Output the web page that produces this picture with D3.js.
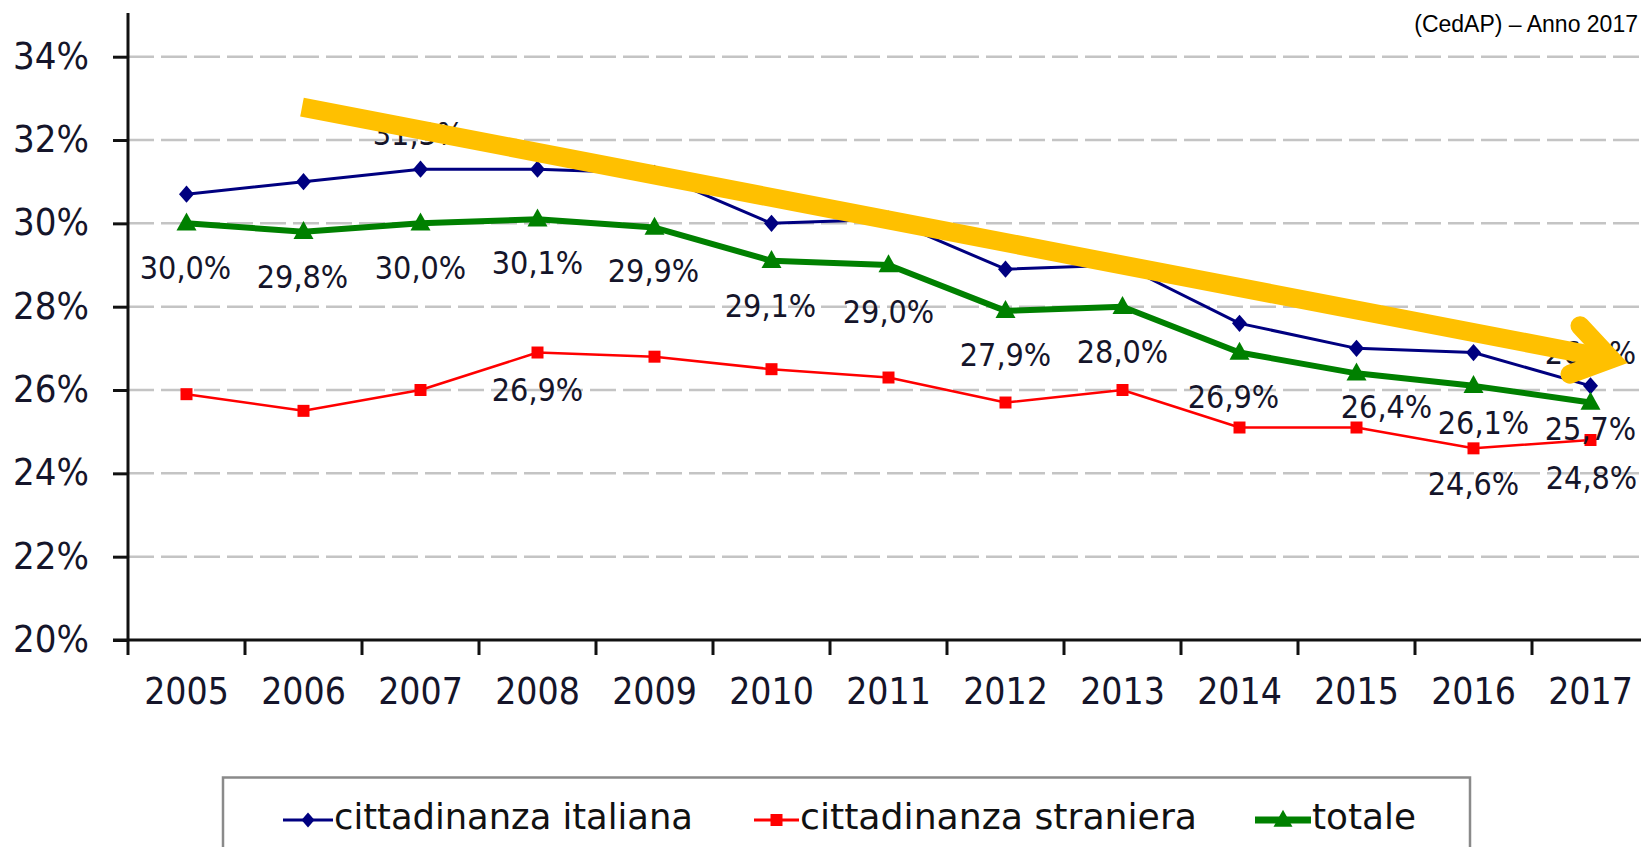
<!DOCTYPE html>
<html>
<head>
<meta charset="utf-8">
<script src="https://cdn.jsdelivr.net/npm/d3@7"></script>
<style>
  body { margin: 0; background: #fff; }
  #canvas { width: 1641px; height: 847px; overflow: hidden; }
</style>
</head>
<body>
<div id="canvas"></div>
<script>
var years = ["2005","2006","2007","2008","2009","2010","2011","2012","2013","2014","2015","2016","2017"];
var italiana  = [30.7, 31.0, 31.3, 31.3, 31.2, 30.0, 30.1, 28.9, 29.0, 27.6, 27.0, 26.9, 26.1];
var straniera = [25.9, 25.5, 26.0, 26.9, 26.8, 26.5, 26.3, 25.7, 26.0, 25.1, 25.1, 24.6, 24.8];
var totale    = [30.0, 29.8, 30.0, 30.1, 29.9, 29.1, 29.0, 27.9, 28.0, 26.9, 26.4, 26.1, 25.7];
var yTicks = [20, 22, 24, 26, 28, 30, 32, 34];
var seriesNames = ["cittadinanza italiana", "cittadinanza straniera", "totale"];

// which points carry a value label (index into years)
var italianaLabels = [2, 12];
var stranieraLabels = [3, 11, 12];

// label nudges, pixels from the point (centre of text)
var totaleDx = [-1, -1, 0, 0, -1, -1, 0, 0, 0, -6, 30, 10, 0];
var totaleDy = [44, 45, 44, 43, 43, 45, 46, 44, 45, 44, 33, 37, 26];
var italianaDx = [-2, 0];
var italianaDy = [-36, -33];
var stranieraDx = [0, 0, 1];
var stranieraDy = [37, 35, 37];

var canvas, width, height, x, y, xi;

function fmt(v){
  return v.toFixed(1).replace(".", ",") + "%";
}

var diamond = {
  draw: function(ctx, size){
    var w = size, h = size * 1.15;
    ctx.moveTo(0, -h/2); ctx.lineTo(w/2, 0); ctx.lineTo(0, h/2); ctx.lineTo(-w/2, 0); ctx.closePath();
  }
};
var square = {
  draw: function(ctx, size){
    ctx.rect(-size/2, -size/2, size, size);
  }
};
var triangle = {
  draw: function(ctx, size){
    var h = size * 0.9;
    ctx.moveTo(0, -h*0.6); ctx.lineTo(size/2, h*0.4); ctx.lineTo(-size/2, h*0.4); ctx.closePath();
  }
};

function drawSeries(values, color, lw, shape, msize){
  var line = d3.line()
    .x(function(d, i){ return x(years[i]) + x.bandwidth()/2; })
    .y(function(d){ return y(d); });
  canvas.append("path")
    .attr("d", line(values))
    .attr("fill", "none")
    .attr("stroke", color)
    .attr("stroke-width", lw)
    .attr("stroke-linejoin", "round");
  canvas.selectAll(null)
    .data(values)
    .enter().append("path")
    .attr("d", d3.symbol().type(shape).size(msize))
    .attr("transform", function(d, i){ return "translate(" + (x(years[i]) + x.bandwidth()/2) + "," + y(d) + ")"; })
    .attr("fill", color);
}

function drawLabels(values, idx, dx, dy){
  canvas.selectAll(null)
    .data(idx)
    .enter().append("text")
    .attr("x", function(d, k){ return x(years[d]) + x.bandwidth()/2 + dx[k]; })
    .attr("y", function(d, k){ return y(values[d]) + dy[k] + 11.5; })
    .attr("text-anchor", "middle")
    .attr("font-family", "'DejaVu Sans Condensed', 'DejaVu Sans', sans-serif")
    .attr("font-size", "32px")
    .attr("fill", "#15152a")
    .text(function(d){ return fmt(values[d]); });
}

function drawLegend(){
  var g = canvas.append("g");
  g.append("rect")
    .attr("x", 223).attr("y", 777.5)
    .attr("width", 1247).attr("height", 120)
    .attr("fill", "#fff")
    .attr("stroke", "#8a8a8a")
    .attr("stroke-width", 2.5);

  var items = [
    {x0: 283, x1: 333, tw: 359, color: "#000080", lw: 3, shape: diamond, ms: 13},
    {x0: 754, x1: 799, tw: 397, color: "#ff0000", lw: 3, shape: square, ms: 12},
    {x0: 1255, x1: 1311, tw: 104, color: "#008000", lw: 7, shape: triangle, ms: 19}
  ];
  items.forEach(function(it, i){
    g.append("line")
      .attr("x1", it.x0).attr("x2", it.x1)
      .attr("y1", 820).attr("y2", 820)
      .attr("stroke", it.color).attr("stroke-width", it.lw);
    g.append("path")
      .attr("d", d3.symbol().type(it.shape).size(it.ms))
      .attr("transform", "translate(" + ((it.x0 + it.x1)/2) + ",820)")
      .attr("fill", it.color);
    g.append("text")
      .attr("x", it.x1 + 1).attr("y", 829)
      .attr("font-family", "'DejaVu Sans Condensed', 'DejaVu Sans', sans-serif")
      .attr("font-size", "35px")
      .attr("fill", "#111")
      .attr("textLength", it.tw)
      .attr("lengthAdjust", "spacingAndGlyphs")
      .text(seriesNames[i]);
  });
}

function drawArrow(){
  // trend arrow, given in (index, value) space
  var shaft = [[0.987, 32.79], [12.175, 26.744]];
  var head = [[11.91, 27.54], [12.175, 26.744], [11.825, 26.38]];
  var line = d3.line()
    .x(function(d){ return xi(d[0]); })
    .y(function(d){ return y(d[1]); });
  canvas.append("path")
    .attr("d", line(shaft))
    .attr("fill", "none")
    .attr("stroke", "#ffc000")
    .attr("stroke-width", 19)
    .attr("stroke-linecap", "butt");
  canvas.append("path")
    .attr("d", line(head))
    .attr("fill", "none")
    .attr("stroke", "#ffc000")
    .attr("stroke-width", 19)
    .attr("stroke-linecap", "round")
    .attr("stroke-linejoin", "miter")
    .attr("stroke-miterlimit", 10);
}

function initializeLayout(){
  width = 1641;
  height = 847;

  canvas = d3.select("#canvas")
    .append("svg")
    .attr("width", width + "px")
    .attr("height", height + "px");

  var left = 128, bottom = 640, band = 117;

  x = d3.scaleBand().domain(years).range([left, left + band * years.length]).padding(0);
  xi = d3.scaleLinear().domain([-0.5, years.length - 0.5]).range([left, left + band * years.length]);
  y = d3.scaleLinear().domain([20, 34]).range([bottom, 56.7]);

  // dashed gridlines
  canvas.selectAll(null)
    .data(yTicks.slice(1))
    .enter().append("line")
    .attr("x1", left).attr("x2", width)
    .attr("y1", function(d){ return y(d); })
    .attr("y2", function(d){ return y(d); })
    .attr("stroke", "#c4c4c4")
    .attr("stroke-width", 2.5)
    .attr("stroke-dasharray", "26,7");

  // y axis
  var yAxis = d3.axisLeft(y)
    .tickValues(yTicks)
    .tickSize(15)
    .tickPadding(24)
    .tickFormat(function(d){ return d + "%"; });
  var gy = canvas.append("g")
    .attr("transform", "translate(" + left + ",0)")
    .call(yAxis);
  gy.select(".domain").remove();
  gy.selectAll(".tick line").attr("stroke", "#111").attr("stroke-width", 3);
  gy.selectAll(".tick text")
    .attr("font-family", "'DejaVu Sans Condensed', 'DejaVu Sans', sans-serif")
    .attr("font-size", "38px")
    .attr("fill", "#15152a")
    .attr("dy", "0.3em");
  canvas.append("line")
    .attr("x1", left).attr("x2", left)
    .attr("y1", 13).attr("y2", bottom)
    .attr("stroke", "#111").attr("stroke-width", 3);

  // x axis: line, ticks between categories, year labels at centres
  canvas.append("line")
    .attr("x1", left - 15).attr("x2", width)
    .attr("y1", bottom).attr("y2", bottom)
    .attr("stroke", "#111").attr("stroke-width", 3);
  var xAxis = d3.axisBottom(x).tickSize(0).tickPadding(55);
  var gx = canvas.append("g")
    .attr("transform", "translate(0," + bottom + ")")
    .call(xAxis);
  gx.select(".domain").remove();
  gx.selectAll(".tick text")
    .attr("font-family", "'DejaVu Sans Condensed', 'DejaVu Sans', sans-serif")
    .attr("font-size", "37px")
    .attr("fill", "#15152a")
    .attr("dy", "0.25em");
  canvas.selectAll(null)
    .data(years)
    .enter().append("line")
    .attr("x1", function(d){ return x(d); })
    .attr("x2", function(d){ return x(d); })
    .attr("y1", bottom).attr("y2", bottom + 15)
    .attr("stroke", "#111").attr("stroke-width", 3);

  drawSeries(italiana, "#000080", 3, diamond, 15);
  drawSeries(straniera, "#ff0000", 2.5, square, 12);
  drawSeries(totale, "#008000", 6, triangle, 20);

  drawLabels(totale, d3.range(years.length), totaleDx, totaleDy);
  drawLabels(straniera, stranieraLabels, stranieraDx, stranieraDy);
  drawLabels(italiana, italianaLabels, italianaDx, italianaDy);

  drawArrow();
  drawLegend();

  canvas.append("text")
    .attr("x", 1638).attr("y", 32)
    .attr("text-anchor", "end")
    .attr("font-family", "'Liberation Sans', Arial, sans-serif")
    .attr("font-size", "23px")
    .attr("fill", "#000")
    .text("(CedAP) – Anno 2017");
}

window.onload = initializeLayout;
</script>
</body>
</html>
